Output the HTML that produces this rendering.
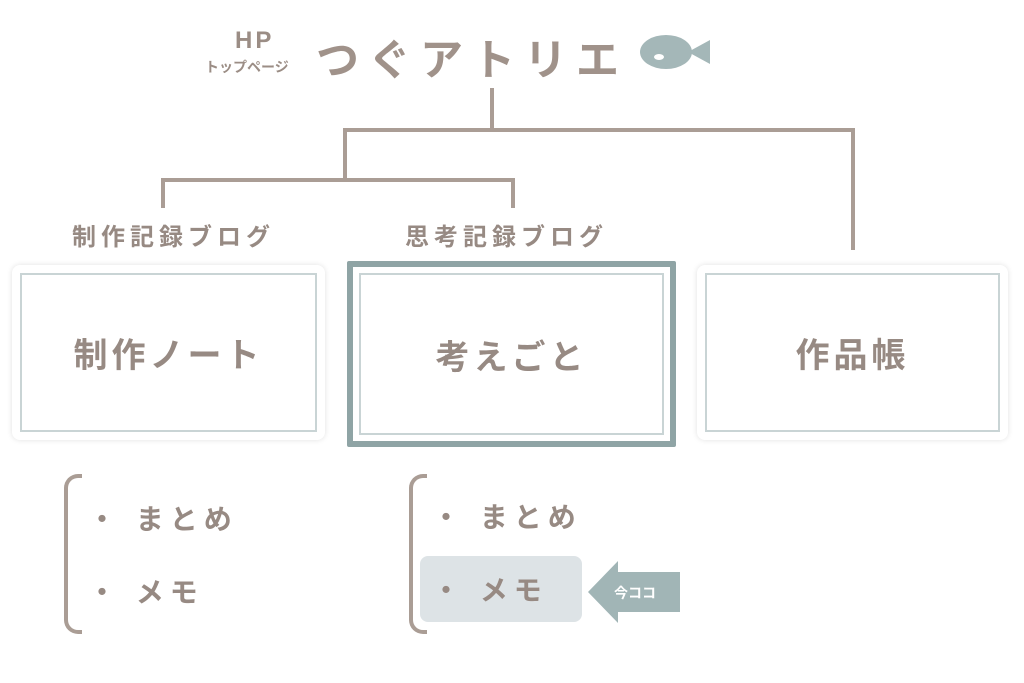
<!DOCTYPE html>
<html><head><meta charset="utf-8"><style>
body{margin:0;width:1024px;height:683px;background:#fff;position:relative;overflow:hidden;font-family:"Liberation Sans","Noto Sans CJK JP",sans-serif;color:#9b8d85}
.a{position:absolute}
.ln{position:absolute;background:#aa9d95}
.card{position:absolute;box-sizing:border-box;border-radius:8px;background:#fff;box-shadow:0 0 6px rgba(0,0,0,.12);display:flex;align-items:center;justify-content:center;font-size:34px;font-weight:bold;letter-spacing:4px;color:#978a83}
.inner{position:absolute;left:8px;top:8px;right:8px;bottom:8px;border:2px solid #c9d4d5}
.lab{position:absolute;font-size:24px;font-weight:bold;letter-spacing:5px;color:#978a83}
.br{position:absolute;width:14px;border:4px solid #aa9d95;border-right:none;border-radius:14px 0 0 14px}
.it{position:absolute;font-size:28px;font-weight:bold;letter-spacing:6px;color:#978a83}
</style></head><body>
<div class="a" style="left:235px;top:27px;font-size:24px;font-weight:bold;letter-spacing:3px">HP</div>
<div class="a" style="left:205px;top:57px;font-size:14px;font-weight:bold">トップページ</div>
<div class="a" style="left:316px;top:26px;font-size:43px;font-weight:bold;letter-spacing:9px;color:#a0928a">つぐアトリエ</div>
<svg class="a" style="left:638px;top:32px" width="76" height="42"><ellipse cx="28" cy="20" rx="26" ry="17" fill="#a4b7b8"/><polygon points="50,20 72,8 72,32" fill="#a4b7b8"/><ellipse cx="21" cy="25" rx="5" ry="3" fill="#fff"/></svg>
<div class="ln" style="left:490px;top:88px;width:4px;height:44px"></div>
<div class="ln" style="left:343px;top:128px;width:512px;height:4px"></div>
<div class="ln" style="left:851px;top:128px;width:4px;height:122px"></div>
<div class="ln" style="left:343px;top:128px;width:4px;height:54px"></div>
<div class="ln" style="left:161px;top:178px;width:354px;height:4px"></div>
<div class="ln" style="left:161px;top:178px;width:4px;height:30px"></div>
<div class="ln" style="left:511px;top:178px;width:4px;height:30px"></div>
<div class="lab" style="left:72px;top:217px">制作記録ブログ</div>
<div class="lab" style="left:405px;top:217px">思考記録ブログ</div>
<div class="card" style="left:12px;top:265px;width:313px;height:175px"><div class="inner"></div><span style="position:relative">制作ノート</span></div>
<div class="card" style="left:347px;top:261px;width:329px;height:186px;border:6px solid #8fa4a5;border-radius:2px;box-shadow:none"><div class="inner" style="left:6px;top:6px;right:6px;bottom:6px"></div><span style="position:relative">考えごと</span></div>
<div class="card" style="left:697px;top:265px;width:311px;height:175px"><div class="inner"></div><span style="position:relative">作品帳</span></div>
<div class="br" style="left:64px;top:474px;height:152px"></div>
<div class="br" style="left:409px;top:474px;height:152px"></div>
<div class="it" style="left:88px;top:498px">・ まとめ</div>
<div class="it" style="left:88px;top:571px">・ メモ</div>
<div class="it" style="left:432px;top:496px">・ まとめ</div>
<div class="a" style="left:420px;top:556px;width:162px;height:66px;background:#dde3e6;border-radius:8px"></div>
<div class="it" style="left:432px;top:569px">・ メモ</div>
<svg class="a" style="left:586px;top:559px" width="96" height="66"><polygon points="2,33 32,2 32,13 94,13 94,53 32,53 32,64" fill="#a1b5b6"/><text x="28" y="39" font-size="14" font-weight="bold" fill="#fff" font-family="Liberation Sans,Noto Sans CJK JP,sans-serif">今ココ</text></svg>
</body></html>
